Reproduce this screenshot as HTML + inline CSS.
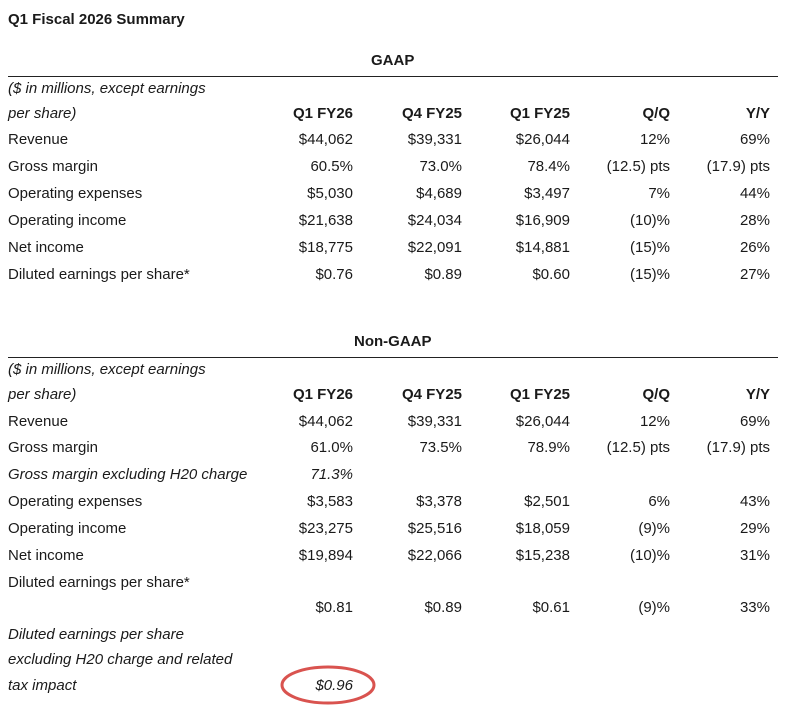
<!DOCTYPE html>
<html><head><meta charset="utf-8"><style>
body{margin:0;width:790px;height:720px;background:#fff;position:relative;font-family:"Liberation Sans",sans-serif;color:#1a1a1a;font-size:15px;overflow:hidden}
div{position:absolute;line-height:20px;white-space:nowrap}
.b{font-weight:bold}.i{font-style:italic}
.r{text-align:right;width:120px}
.hl{position:absolute;left:8px;width:770px;height:1px;background:#222}
</style></head><body>
<div class="b" style="left:8px;top:10px;font-size:15px">Q1 Fiscal 2026 Summary</div>
<div class="b" style="left:371px;top:51px">GAAP</div>
<span class="hl" style="top:76px"></span>
<div class="i" style="left:8px;top:79px">($ in millions, except earnings</div>
<div class="i" style="left:8px;top:104px">per share)</div>
<div class="b r" style="left:233px;top:104px">Q1 FY26</div>
<div class="b r" style="left:342px;top:104px">Q4 FY25</div>
<div class="b r" style="left:450px;top:104px">Q1 FY25</div>
<div class="b r" style="left:550px;top:104px">Q/Q</div>
<div class="b r" style="left:650px;top:104px">Y/Y</div>

<div style="left:8px;top:130px">Revenue</div><div class="r" style="left:233px;top:130px">$44,062</div><div class="r" style="left:342px;top:130px">$39,331</div><div class="r" style="left:450px;top:130px">$26,044</div><div class="r" style="left:550px;top:130px">12%</div><div class="r" style="left:650px;top:130px">69%</div>
<div style="left:8px;top:157px">Gross margin</div><div class="r" style="left:233px;top:157px">60.5%</div><div class="r" style="left:342px;top:157px">73.0%</div><div class="r" style="left:450px;top:157px">78.4%</div><div class="r" style="left:550px;top:157px">(12.5) pts</div><div class="r" style="left:650px;top:157px">(17.9) pts</div>
<div style="left:8px;top:184px">Operating expenses</div><div class="r" style="left:233px;top:184px">$5,030</div><div class="r" style="left:342px;top:184px">$4,689</div><div class="r" style="left:450px;top:184px">$3,497</div><div class="r" style="left:550px;top:184px">7%</div><div class="r" style="left:650px;top:184px">44%</div>
<div style="left:8px;top:211px">Operating income</div><div class="r" style="left:233px;top:211px">$21,638</div><div class="r" style="left:342px;top:211px">$24,034</div><div class="r" style="left:450px;top:211px">$16,909</div><div class="r" style="left:550px;top:211px">(10)%</div><div class="r" style="left:650px;top:211px">28%</div>
<div style="left:8px;top:238px">Net income</div><div class="r" style="left:233px;top:238px">$18,775</div><div class="r" style="left:342px;top:238px">$22,091</div><div class="r" style="left:450px;top:238px">$14,881</div><div class="r" style="left:550px;top:238px">(15)%</div><div class="r" style="left:650px;top:238px">26%</div>
<div style="left:8px;top:265px">Diluted earnings per share*</div><div class="r" style="left:233px;top:265px">$0.76</div><div class="r" style="left:342px;top:265px">$0.89</div><div class="r" style="left:450px;top:265px">$0.60</div><div class="r" style="left:550px;top:265px">(15)%</div><div class="r" style="left:650px;top:265px">27%</div>

<div class="b" style="left:354px;top:332px">Non-GAAP</div>
<span class="hl" style="top:357px"></span>
<div class="i" style="left:8px;top:360px">($ in millions, except earnings</div>
<div class="i" style="left:8px;top:385px">per share)</div>
<div class="b r" style="left:233px;top:385px">Q1 FY26</div>
<div class="b r" style="left:342px;top:385px">Q4 FY25</div>
<div class="b r" style="left:450px;top:385px">Q1 FY25</div>
<div class="b r" style="left:550px;top:385px">Q/Q</div>
<div class="b r" style="left:650px;top:385px">Y/Y</div>

<div style="left:8px;top:412px">Revenue</div><div class="r" style="left:233px;top:412px">$44,062</div><div class="r" style="left:342px;top:412px">$39,331</div><div class="r" style="left:450px;top:412px">$26,044</div><div class="r" style="left:550px;top:412px">12%</div><div class="r" style="left:650px;top:412px">69%</div>
<div style="left:8px;top:438px">Gross margin</div><div class="r" style="left:233px;top:438px">61.0%</div><div class="r" style="left:342px;top:438px">73.5%</div><div class="r" style="left:450px;top:438px">78.9%</div><div class="r" style="left:550px;top:438px">(12.5) pts</div><div class="r" style="left:650px;top:438px">(17.9) pts</div>
<div class="i" style="left:8px;top:465px">Gross margin excluding H20 charge</div><div class="r i" style="left:233px;top:465px">71.3%</div>
<div style="left:8px;top:492px">Operating expenses</div><div class="r" style="left:233px;top:492px">$3,583</div><div class="r" style="left:342px;top:492px">$3,378</div><div class="r" style="left:450px;top:492px">$2,501</div><div class="r" style="left:550px;top:492px">6%</div><div class="r" style="left:650px;top:492px">43%</div>
<div style="left:8px;top:519px">Operating income</div><div class="r" style="left:233px;top:519px">$23,275</div><div class="r" style="left:342px;top:519px">$25,516</div><div class="r" style="left:450px;top:519px">$18,059</div><div class="r" style="left:550px;top:519px">(9)%</div><div class="r" style="left:650px;top:519px">29%</div>
<div style="left:8px;top:546px">Net income</div><div class="r" style="left:233px;top:546px">$19,894</div><div class="r" style="left:342px;top:546px">$22,066</div><div class="r" style="left:450px;top:546px">$15,238</div><div class="r" style="left:550px;top:546px">(10)%</div><div class="r" style="left:650px;top:546px">31%</div>
<div style="left:8px;top:573px">Diluted earnings per share*</div>
<div class="r" style="left:233px;top:598px">$0.81</div><div class="r" style="left:342px;top:598px">$0.89</div><div class="r" style="left:450px;top:598px">$0.61</div><div class="r" style="left:550px;top:598px">(9)%</div><div class="r" style="left:650px;top:598px">33%</div>
<div class="i" style="left:8px;top:625px">Diluted earnings per share</div>
<div class="i" style="left:8px;top:650px">excluding H20 charge and related</div>
<div class="i" style="left:8px;top:676px">tax impact</div>
<div class="r i" style="left:233px;top:676px">$0.96</div>
<svg style="position:absolute;left:0;top:0" width="790" height="720"><ellipse cx="328" cy="685" rx="46" ry="18" fill="none" stroke="#d9534f" stroke-width="3"/></svg>
</body></html>
